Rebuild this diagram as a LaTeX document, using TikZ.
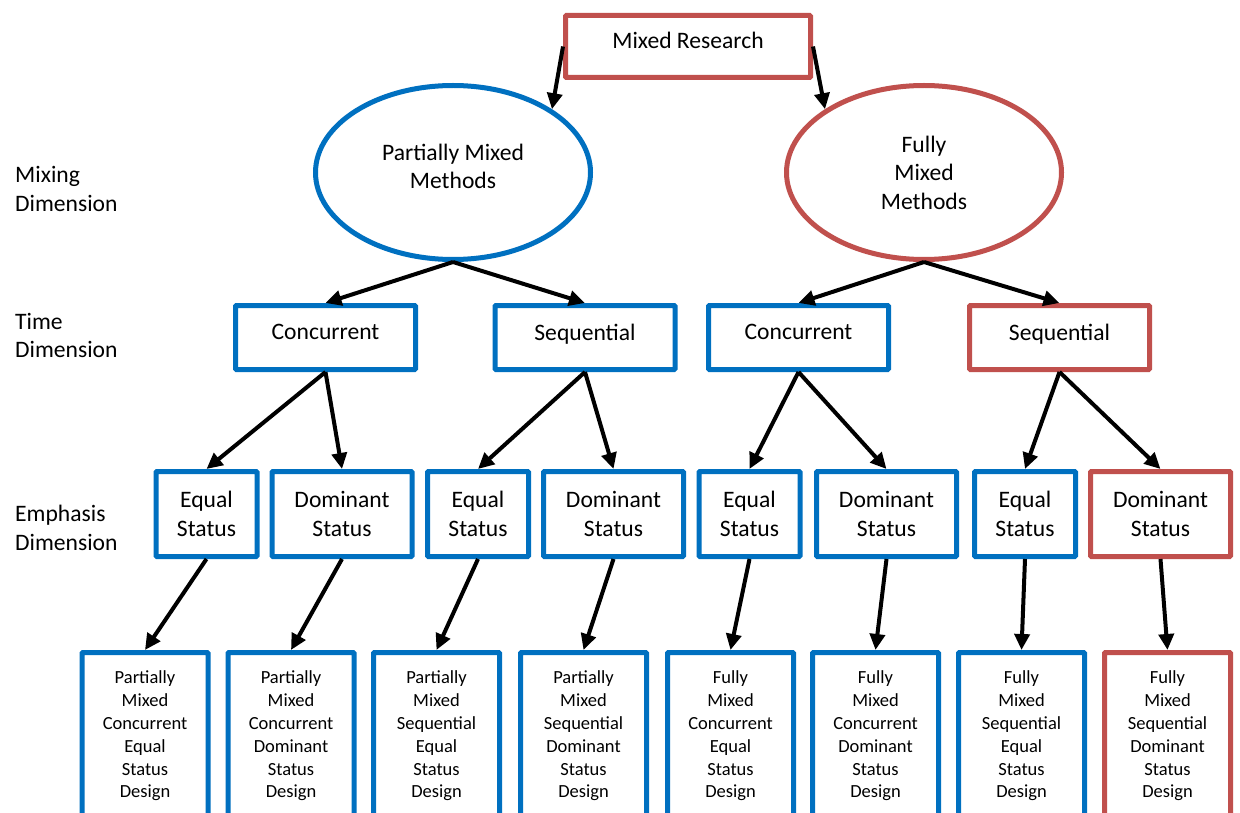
\documentclass[tikz,border=0pt]{standalone}
\usepackage{fontspec}
\setmainfont{Carlito}
\usetikzlibrary{arrows.meta,shapes.geometric}
\definecolor{myblue}{HTML}{0070C0}
\definecolor{myred}{HTML}{C0504D}
\begin{document}
\begin{tikzpicture}[x=1pt,y=-1pt,
 box/.style={draw,line width=5pt,rounded corners=1pt,inner sep=0pt,align=center,font=\fontsize{23.6}{28.5}\selectfont},
 bluebox/.style={box,draw=myblue},
 redbox/.style={box,draw=myred},
 ellbox/.style={ellipse,draw,line width=5pt,inner sep=0pt,minimum width=275pt,minimum height=174pt,align=center,font=\fontsize{23.6}{28.5}\selectfont},
 emphbox/.style={minimum height=85pt},
 eqbox/.style={emphbox,minimum width=101pt},
 dombox/.style={emphbox,minimum width=140pt},
 timebox/.style={minimum width=180pt,minimum height=64pt,text depth=11pt},
 designbox/.style={minimum width=126pt,minimum height=167pt,font=\fontsize{18.5}{22.8}\selectfont},
 dimlabel/.style={anchor=west,inner sep=0pt,align=left,font=\fontsize{23.6}{28.8}\selectfont},
 arrowline/.style={draw=black,line width=4pt,-{Triangle[length=16pt,width=15pt]}}
]
\clip (0,0) rectangle (1240,813);
\fill[white] (0,0) rectangle (1240,813);

% left labels
\node[dimlabel] (lmix) at (15,189) {Mixing\\Dimension};
\node[dimlabel] (ltime) at (15,335.5) {Time\\Dimension};
\node[dimlabel] (lemph) at (15,528) {Emphasis\\Dimension};

% top
\node[redbox,minimum width=245pt,minimum height=62pt,text depth=12pt] (mr) at (688,46.5) {Mixed Research};

% mixing
\node[ellbox,draw=myblue,text depth=12pt] (pm) at (453,172.5) {Partially Mixed\\Methods};
\node[ellbox,draw=myred] (fm) at (924,172.5) {Fully\\Mixed\\Methods};

% time
\node[bluebox,timebox] (c1) at (325.5,337.5) {Concurrent};
\node[bluebox,timebox] (s1) at (585,337.5) {Sequential};
\node[bluebox,timebox] (c2) at (798.5,337.5) {Concurrent};
\node[redbox,timebox] (s2) at (1059.5,337.5) {Sequential};

% emphasis
\node[bluebox,eqbox] (e1) at (206.5,514) {Equal\\Status};
\node[bluebox,dombox] (d1) at (342,514) {Dominant\\Status};
\node[bluebox,eqbox] (e2) at (478,514) {Equal\\Status};
\node[bluebox,dombox] (d2) at (613.5,514) {Dominant\\Status};
\node[bluebox,eqbox] (e3) at (749.5,514) {Equal\\Status};
\node[bluebox,dombox] (d3) at (886.5,514) {Dominant\\Status};
\node[bluebox,eqbox] (e4) at (1025,514) {Equal\\Status};
\node[redbox,dombox] (d4) at (1160.5,514) {Dominant\\Status};

% designs
\node[bluebox,designbox] (g1) at (145,736) {Partially\\Mixed\\Concurrent\\Equal\\Status\\Design};
\node[bluebox,designbox] (g2) at (291,736) {Partially\\Mixed\\Concurrent\\Dominant\\Status\\Design};
\node[bluebox,designbox] (g3) at (436.5,736) {Partially\\Mixed\\Sequential\\Equal\\Status\\Design};
\node[bluebox,designbox] (g4) at (583.5,736) {Partially\\Mixed\\Sequential\\Dominant\\Status\\Design};
\node[bluebox,designbox] (g5) at (730.5,736) {Fully\\Mixed\\Concurrent\\Equal\\Status\\Design};
\node[bluebox,designbox] (g6) at (875.5,736) {Fully\\Mixed\\Concurrent\\Dominant\\Status\\Design};
\node[bluebox,designbox] (g7) at (1021.5,736) {Fully\\Mixed\\Sequential\\Equal\\Status\\Design};
\node[redbox,designbox] (g8) at (1167.5,736) {Fully\\Mixed\\Sequential\\Dominant\\Status\\Design};

% connectors
\draw[arrowline] (mr.west) -- (pm.north east);
\draw[arrowline] (mr.east) -- (fm.north west);
\draw[arrowline] (pm.south) -- (c1.north);
\draw[arrowline] (pm.south) -- (s1.north);
\draw[arrowline] (fm.south) -- (c2.north);
\draw[arrowline] (fm.south) -- (s2.north);
\draw[arrowline] (c1.south) -- (e1.north);
\draw[arrowline] (c1.south) -- (d1.north);
\draw[arrowline] (s1.south) -- (e2.north);
\draw[arrowline] (s1.south) -- (d2.north);
\draw[arrowline] (c2.south) -- (e3.north);
\draw[arrowline] (c2.south) -- (d3.north);
\draw[arrowline] (s2.south) -- (e4.north);
\draw[arrowline] (s2.south) -- (d4.north);
\draw[arrowline] (e1.south) -- (g1.north);
\draw[arrowline] (d1.south) -- (g2.north);
\draw[arrowline] (e2.south) -- (g3.north);
\draw[arrowline] (d2.south) -- (g4.north);
\draw[arrowline] (e3.south) -- (g5.north);
\draw[arrowline] (d3.south) -- (g6.north);
\draw[arrowline] (e4.south) -- (g7.north);
\draw[arrowline] (d4.south) -- (g8.north);
\end{tikzpicture}
\end{document}
